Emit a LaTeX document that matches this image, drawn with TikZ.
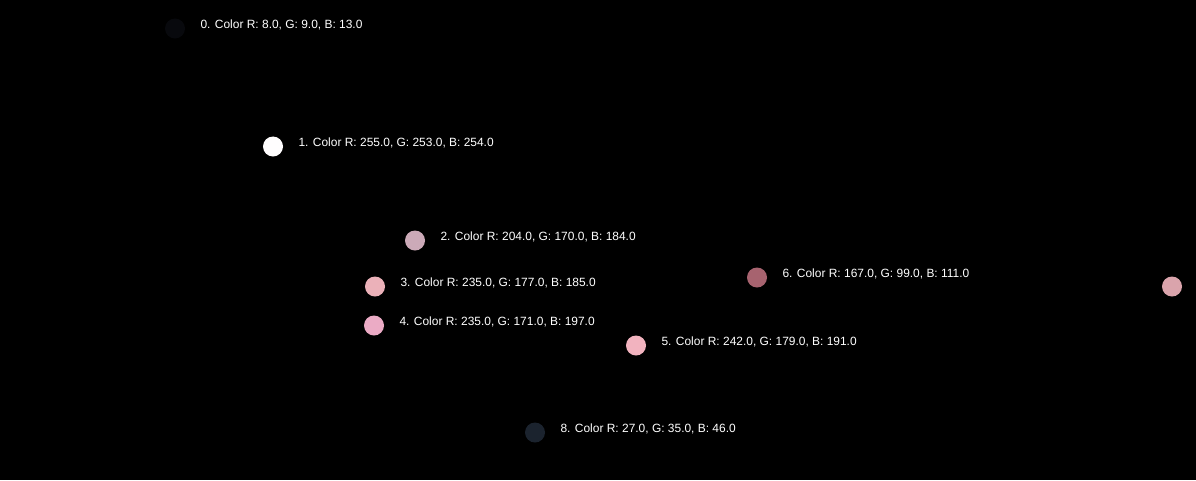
\documentclass[tikz,border=0pt]{standalone}
\usepackage{fontspec}
\setmainfont{Liberation Sans}
\usetikzlibrary{positioning}
\definecolor{swatchA}{RGB}{8,9,13}
\definecolor{swatchB}{RGB}{255,253,254}
\definecolor{swatchC}{RGB}{204,170,184}
\definecolor{swatchD}{RGB}{235,177,185}
\definecolor{swatchE}{RGB}{235,171,197}
\definecolor{swatchF}{RGB}{242,179,191}
\definecolor{swatchG}{RGB}{167,99,111}
\definecolor{swatchH}{RGB}{218,164,172}
\definecolor{swatchI}{RGB}{27,35,46}
\tikzset{
  dot/.style={circle, inner sep=0pt, minimum size=0.5cm},
  lbl/.style={text=white, inner sep=0pt, font=\fontsize{8.5}{10}\selectfont, yshift=0.1cm}
}
\begin{document}
\begin{tikzpicture}[x=0.025cm, y=-0.025cm]
        \fill[black] (0,0) rectangle (1196,480);
        \useasboundingbox (0,0) rectangle (1196,480);
        \node [dot, fill=swatchA] (c0) at (175,28.5) {};
        \node [dot, fill=swatchB] (c1) at (273,146.5) {};
        \node [dot, fill=swatchC] (c2) at (415,240.5) {};
        \node [dot, fill=swatchD] (c3) at (375,286.5) {};
        \node [dot, fill=swatchE] (c4) at (374,325.5) {};
        \node [dot, fill=swatchF] (c5) at (636,345.5) {};
        \node [dot, fill=swatchG] (c6) at (757,277.5) {};
        \node [dot, fill=swatchH] (c7) at (1172,286.5) {};
        \node [dot, fill=swatchI] (c8) at (535,432.5) {};
        \node [lbl, right=0.375cm of c0] (t0) {0. Color R: 8.0, G: 9.0, B: 13.0};
        \node [lbl, right=0.375cm of c1] (t1) {1. Color R: 255.0, G: 253.0, B: 254.0};
        \node [lbl, right=0.375cm of c2] (t2) {2. Color R: 204.0, G: 170.0, B: 184.0};
        \node [lbl, right=0.375cm of c3] (t3) {3. Color R: 235.0, G: 177.0, B: 185.0};
        \node [lbl, right=0.375cm of c4] (t4) {4. Color R: 235.0, G: 171.0, B: 197.0};
        \node [lbl, right=0.375cm of c5] (t5) {5. Color R: 242.0, G: 179.0, B: 191.0};
        \node [lbl, right=0.375cm of c6] (t6) {6. Color R: 167.0, G: 99.0, B: 111.0};
        \node [lbl, right=0.375cm of c8] (t8) {8. Color R: 27.0, G: 35.0, B: 46.0};
\end{tikzpicture}
\end{document}
